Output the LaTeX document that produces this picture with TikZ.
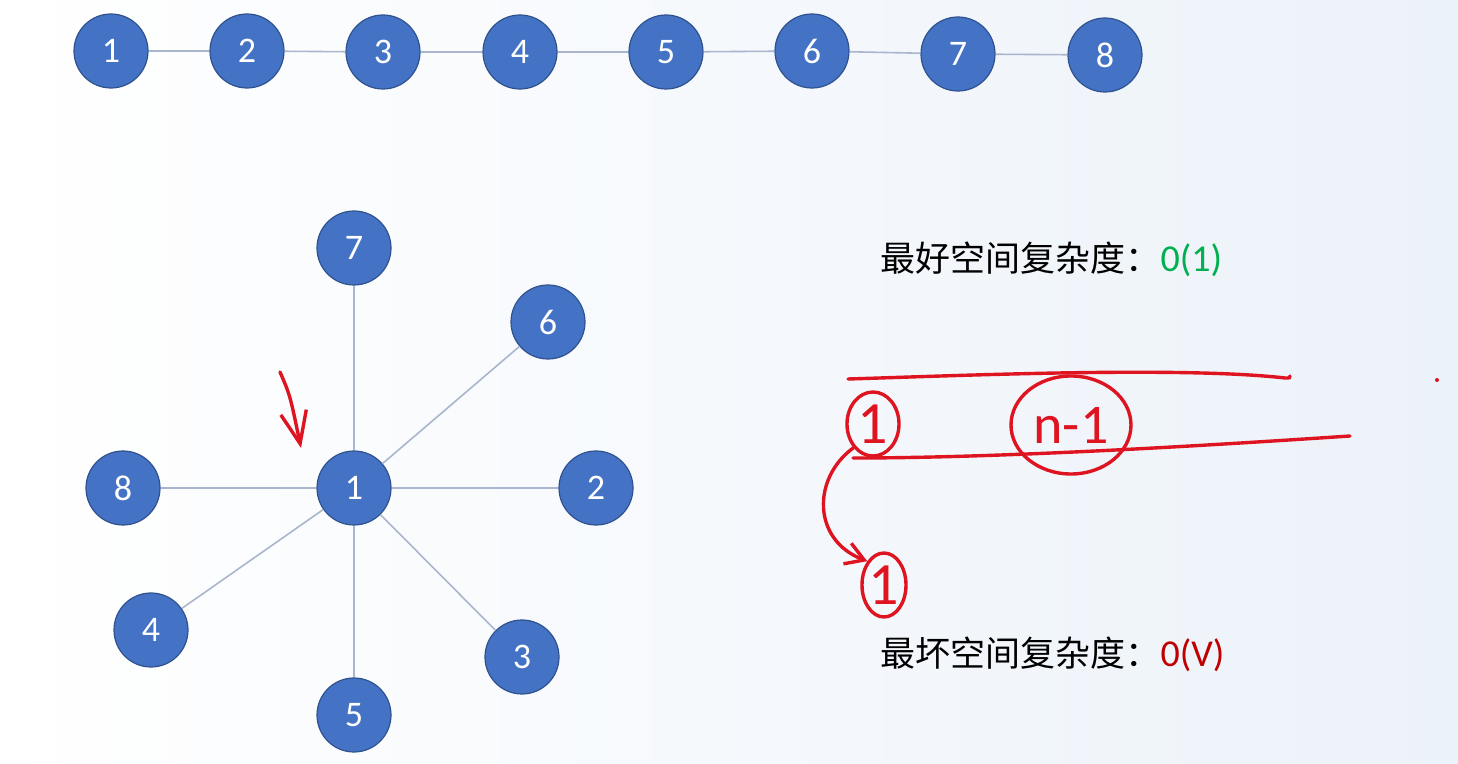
\documentclass[tikz,border=0pt]{standalone}
\usepackage{fontspec}
\setsansfont{Carlito}
\newfontfamily\cjk{Noto Sans CJK SC}
\usetikzlibrary{shapes,arrows.meta}
\definecolor{nodeblue}{RGB}{68,114,196}
\definecolor{nodeline}{RGB}{47,82,143}
\definecolor{edgegray}{RGB}{170,182,206}
\definecolor{inkred}{RGB}{222,20,32}
\definecolor{okgreen}{RGB}{0,176,80}
\definecolor{badred}{RGB}{192,0,0}
\definecolor{bgblue}{RGB}{236,242,249}

\begin{document}
\begin{tikzpicture}[x=0.5pt, y=-0.5pt, semithick]
\tikzstyle{vertex}=[draw=nodeline, fill=nodeblue, circle, minimum size=37pt, inner sep=0pt, line width=0.6pt, text=white, font=\sffamily\fontsize{18}{18}\selectfont]
\tikzstyle{link}=[draw=edgegray, line width=0.8pt]
\tikzstyle{ink}=[draw=inkred, line width=1.7pt, line cap=round]
\tikzstyle{scrawl}=[ink, ellipse, inner sep=0pt, text=inkred, font=\sffamily\fontsize{30}{30}\selectfont]
\tikzstyle{note}=[anchor=west, inner sep=0pt, font=\cjk\fontsize{17.5}{20}\selectfont]

\useasboundingbox (0,0) rectangle (1458,764);
\shade[left color=white, right color=bgblue] (0,0) rectangle (1458,764);

% chain
\foreach \i/\x/\y in {1/111/51, 2/247/51, 3/383/52, 4/520/52, 5/666/52, 6/812/51, 7/958/54, 8/1105/55}
  \node[vertex] (t\i) at (\x,\y) {\i};
\foreach \a/\b in {1/2, 2/3, 3/4, 4/5, 5/6, 6/7, 7/8}
  \draw[link] (t\a) -- (t\b);

% star
\foreach \i/\x/\y in {1/354/488, 2/596/488, 3/522/657, 4/151/630, 5/354/715, 6/548/322, 7/354/248, 8/123/488}
  \node[vertex] (s\i) at (\x,\y) {\i};
\foreach \j in {2,...,8}
  \draw[link] (s1) -- (s\j);

\coordinate (tail) at (280,372);
\coordinate (tip) at (301,448);
\draw[ink, -{Straight Barb[length=16pt, width=13pt]}] (tail) .. controls (290,395) .. (tip);

% labels
\node[note] (best) at (880,259) {最好空间复杂度：\textcolor{okgreen}{\sffamily\fontsize{19}{20}\selectfont 0(1)}};
\node[note] (worst) at (880,654) {最坏空间复杂度：\textcolor{badred}{\sffamily\fontsize{19}{20}\selectfont 0(V)}};

% scribbles
\coordinate (topL) at (848,379);
\coordinate (topR) at (1290,376);
\coordinate (botL) at (853,458);
\coordinate (botR) at (1350,436);
\draw[ink] (topL) .. controls (950,376) and (1180,366) .. (1285,378) .. controls (1290,378) .. (topR);
\draw[ink] (botL) .. controls (1000,458) and (1200,446) .. (botR);

\node[scrawl, minimum width=26pt, minimum height=32pt] (one) at (873,424) {1};
\node[scrawl, minimum width=60pt, minimum height=49pt, font=\sffamily\fontsize{28}{28}\selectfont] (nless) at (1071,425) {n-1};
\node[scrawl, minimum width=22pt, minimum height=32pt] (onebis) at (884,585) {1};

\draw[ink, -{Straight Barb[length=9pt, width=11pt]}] (one.south west) .. controls (812,478) and (812,540) .. (onebis.north west);

\fill[inkred] (1437,380) circle (1pt);
\end{tikzpicture}
\end{document}
